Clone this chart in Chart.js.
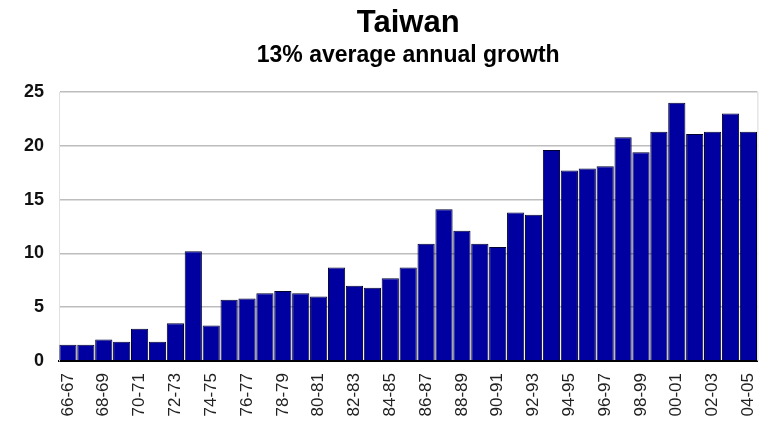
<!DOCTYPE html>
<html>
<head>
<meta charset="utf-8">
<script src="https://cdn.jsdelivr.net/npm/chart.js@4/dist/chart.umd.min.js"></script>
<style>
  html, body { margin: 0; padding: 0; background: #fff; }
  #wrap { width: 773px; height: 424px; }
</style>
</head>
<body>
<div id="wrap"><canvas id="grafico" width="773" height="424"></canvas></div>
<script>
// ==================== DATOS ====================
const titulo = 'Taiwan';
const subtitulo = '13% average annual growth';

const anios = [
  '66-67','67-68','68-69','69-70','70-71','71-72','72-73','73-74','74-75','75-76',
  '76-77','77-78','78-79','79-80','80-81','81-82','82-83','83-84','84-85','85-86',
  '86-87','87-88','88-89','89-90','90-91','91-92','92-93','93-94','94-95','95-96',
  '96-97','97-98','98-99','99-00','00-01','01-02','02-03','03-04','04-05'
];

const valores = [
  1.5, 1.5, 2.0, 1.8, 3.0, 1.8, 3.5, 10.2, 3.3, 5.7,
  5.8, 6.3, 6.5, 6.3, 6.0, 8.7, 7.0, 6.8, 7.7, 8.7,
  10.9, 14.1, 12.1, 10.9, 10.6, 13.8, 13.6, 19.6, 17.7, 17.9,
  18.1, 20.8, 19.4, 21.3, 24.0, 21.1, 21.3, 23.0, 21.3
];

const ticksY = [0, 5, 10, 15, 20, 25];

// ==================== PLUGIN TITULO / MARCO ====================
const tituloPlugin = {
  id: 'tituloPlugin',
  afterDraw(chart) {
    const { ctx, chartArea } = chart;
    const cx = (chartArea.left + chartArea.right) / 2;
    ctx.save();
    ctx.fillStyle = '#000';
    ctx.textAlign = 'center';
    ctx.textBaseline = 'alphabetic';
    ctx.font = 'bold 31px "Liberation Sans", Arial, sans-serif';
    ctx.fillText(titulo, cx, 32);
    ctx.font = 'bold 23px "Liberation Sans", Arial, sans-serif';
    ctx.fillText(subtitulo, cx, 62);
    // borde derecho claro del area
    ctx.strokeStyle = '#d8d8d8';
    ctx.lineWidth = 1;
    ctx.beginPath();
    ctx.moveTo(chartArea.right + 0.5, chartArea.top);
    ctx.lineTo(chartArea.right + 0.5, chartArea.bottom);
    ctx.stroke();
    ctx.restore();
  }
};

// ==================== GRÁFICO ====================
const ctx = document.getElementById('grafico').getContext('2d');
new Chart(ctx, {
  type: 'bar',
  data: {
    labels: anios,
    datasets: [{
      data: valores,
      backgroundColor: '#0000a0',
      borderColor: '#000030',
      borderWidth: 1,
      barPercentage: 0.96,
      categoryPercentage: 1.0
    }]
  },
  options: {
    responsive: false,
    animation: false,
    layout: { padding: { top: 92, left: 0, right: 13, bottom: 0 } },
    plugins: {
      legend: { display: false },
      tooltip: { enabled: false }
    },
    scales: {
      x: {
        grid: { display: false },
        border: { display: true, color: '#000', width: 2 },
        ticks: {
          autoSkip: false,
          minRotation: 90,
          maxRotation: 90,
          color: '#222',
          padding: 4,
          font: { family: '"Liberation Sans", Arial, sans-serif', size: 17 },
          callback: (v, i) => (i % 2 === 0 ? anios[i] : '')
        },
        afterFit: (scale) => { scale.height = 63; }
      },
      y: {
        min: 0,
        max: 25,
        afterBuildTicks: (scale) => { scale.ticks = ticksY.map(v => ({ value: v })); },
        grid: { color: '#bdbdbd', lineWidth: 1.5, drawTicks: false },
        border: { display: true, color: '#e0e0e0' },
        ticks: {
          color: '#111',
          padding: 15,
          font: { family: '"Liberation Sans", Arial, sans-serif', size: 18, weight: 'bold' }
        },
        afterFit: (scale) => { scale.width = 59; }
      }
    }
  },
  plugins: [tituloPlugin]
});
</script>
</body>
</html>
